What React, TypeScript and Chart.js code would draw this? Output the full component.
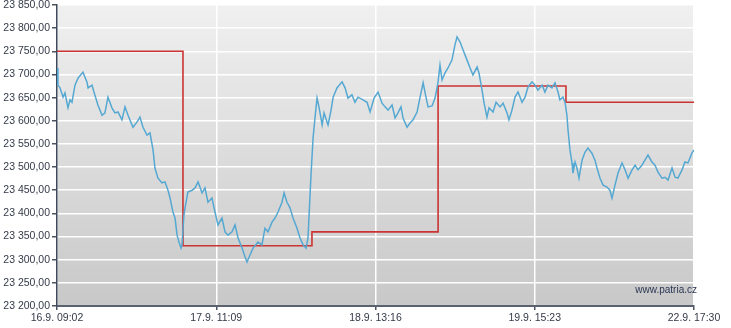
import React, { useEffect, useRef } from 'react';
import { Chart, registerables } from 'chart.js';

Chart.register(...registerables);

// x axis: session progress 0..400 (one hundred per labelled tick)
const xTickLabels = ['16.9. 09:02', '17.9. 11:09', '18.9. 13:16', '19.9. 15:23', '22.9. 17:30'];

const priceTime = [
  0, 0.6, 1.9, 3.8, 5.0, 6.9, 8.2, 9.4, 11.3, 13.2, 16.3, 18.8, 19.5, 22.0, 23.2, 25.7, 28.3, 30.1, 32.0, 34.5,
  36.4, 38.3, 40.8, 42.7, 44.6, 47.7, 50.2, 52.1, 54.0, 56.5, 58.4, 60.3, 61.5, 63.4, 65.9, 67.8, 69.7, 71.0, 72.8, 74.1,
  75.4, 76.6, 77.9, 78.5, 79.7, 80.4, 82.2, 84.8, 86.7, 88.6, 91.1, 92.9, 94.8, 97.3, 99.2, 101.1, 103.6, 105.5, 107.4, 109.9,
  111.8, 113.7, 116.2, 118.1, 119.3, 121.2, 123.1, 126.2, 128.7, 130.6, 132.5, 135.0, 136.9, 138.8, 141.3, 142.6, 144.4, 146.3, 148.2, 150.7,
  152.6, 154.5, 156.4, 157.6, 159.5, 160.8, 162.0, 163.3, 164.5, 166.5, 167.7, 169.6, 170.2, 172.1, 173.4, 175.8, 179.0, 180.9, 182.7, 185.2,
  187.1, 189.0, 192.2, 194.7, 196.6, 199.1, 201.6, 204.1, 206.0, 207.9, 210.4, 212.3, 214.1, 216.0, 217.3, 219.8, 221.7, 223.6, 226.1, 228.0,
  229.9, 231.7, 233.0, 235.5, 237.4, 239.3, 240.5, 241.8, 243.6, 245.5, 248.0, 249.9, 251.2, 253.1, 255.0, 257.5, 259.4, 261.2, 263.8, 265.0,
  266.9, 268.2, 270.0, 271.3, 273.8, 275.7, 278.2, 280.1, 282.6, 283.8, 285.7, 287.6, 289.5, 292.0, 293.9, 295.8, 298.3, 300.2, 302.0, 304.6,
  306.4, 308.3, 310.8, 312.7, 314.6, 315.8, 317.7, 319.0, 320.2, 320.9, 322.1, 323.4, 324.0, 325.3, 326.5, 327.8, 329.7, 331.5, 333.4, 335.9,
  337.8, 339.1, 341.0, 342.9, 345.4, 347.2, 348.5, 350.4, 352.3, 354.8, 356.7, 358.6, 361.1, 363.0, 364.8, 367.3, 369.2, 371.1, 373.6, 375.5,
  377.4, 379.9, 381.8, 383.7, 386.2, 388.1, 389.9, 392.5, 394.3, 396.2, 398.7, 400,
];

const priceValues = [
  23714, 23677, 23671, 23651, 23660, 23628, 23645, 23640, 23677, 23692, 23705, 23684, 23671, 23677, 23662, 23634, 23612, 23617, 23651, 23628,
  23617, 23619, 23602, 23630, 23612, 23586, 23597, 23608, 23586, 23569, 23574, 23537, 23498, 23476, 23466, 23468, 23450, 23433, 23403, 23390,
  23353, 23338, 23325, 23332, 23396, 23412, 23446, 23450, 23455, 23468, 23444, 23455, 23424, 23433, 23403, 23375, 23390, 23360, 23353, 23360,
  23375, 23347, 23325, 23306, 23295, 23310, 23325, 23338, 23332, 23368, 23360, 23381, 23390, 23403, 23424, 23444, 23424, 23412, 23390, 23368,
  23347, 23332, 23325, 23347, 23483, 23563, 23606, 23649, 23630, 23591, 23617, 23597, 23591, 23623, 23651, 23671, 23684, 23671, 23649, 23656,
  23640, 23651, 23645, 23640, 23619, 23649, 23662, 23638, 23630, 23623, 23634, 23606, 23617, 23630, 23606, 23586, 23595, 23602, 23619, 23651,
  23682, 23651, 23630, 23632, 23649, 23684, 23720, 23688, 23703, 23714, 23731, 23764, 23781, 23770, 23753, 23731, 23714, 23699, 23716, 23703,
  23666, 23638, 23608, 23628, 23619, 23640, 23630, 23638, 23617, 23602, 23623, 23651, 23662, 23640, 23651, 23673, 23684, 23677, 23666, 23677,
  23662, 23677, 23671, 23682, 23662, 23645, 23651, 23640, 23612, 23580, 23537, 23509, 23487, 23511, 23498, 23476, 23515, 23532, 23541, 23530,
  23515, 23498, 23476, 23461, 23457, 23450, 23433, 23461, 23487, 23509, 23494, 23476, 23494, 23504, 23494, 23504, 23515, 23526, 23511, 23504,
  23489, 23476, 23478, 23472, 23498, 23478, 23476, 23494, 23511, 23509, 23530, 23537,
];

// reference (previous close) step line
const refTime = [0, 79.1, 160.1, 239.3, 319.6, 400];
const refValues = [23750, 23330, 23360, 23675, 23640, 23640];

const yMin = 23200;
const yMax = 23850;
const yStep = 50;
const watermark = 'www.patria.cz';

function formatCz(v: number): string {
  const fixed = v.toFixed(2);
  const [intPart, dec] = fixed.split('.');
  const withSpaces = intPart.replace(/\B(?=(\d{3})+(?!\d))/g, ' ');
  return withSpaces + ',' + dec;
}

const bgPlugin = {
  id: 'bgGradient',
  beforeDraw(chart: any) {
    const { ctx, chartArea } = chart;
    if (!chartArea) return;
    const { left, top, right, bottom } = chartArea;
    const g = ctx.createLinearGradient(0, top, 0, bottom);
    g.addColorStop(0, '#f0f0f0');
    g.addColorStop(1, '#c8c8c8');
    ctx.save();
    ctx.fillStyle = g;
    ctx.fillRect(left, top, right - left, bottom - top);
    ctx.restore();
  },
  afterDatasetsDraw(chart: any) {
    const { ctx, chartArea } = chart;
    ctx.save();
    ctx.font = '10px "Liberation Sans", Arial, sans-serif';
    ctx.fillStyle = '#2b3654';
    ctx.textAlign = 'right';
    ctx.textBaseline = 'alphabetic';
    ctx.fillText(watermark, chartArea.right + 3, chartArea.bottom - 13);
    ctx.restore();
  },
};

export default function App() {
  const ref = useRef<HTMLCanvasElement | null>(null);

  useEffect(() => {
    if (!ref.current) return;
    const font = { family: '"Liberation Sans", Arial, sans-serif', size: 10.5 };
    const chart = new Chart(ref.current, {
      type: 'line',
      data: {
        datasets: [
          {
            label: 'Kurz',
            data: priceTime.map((t, i) => ({ x: t, y: priceValues[i] })),
            borderColor: '#55a8d2',
            borderWidth: 1.5,
            pointRadius: 0,
            tension: 0,
          },
          {
            label: 'Předchozí',
            data: refTime.map((t, i) => ({ x: t, y: refValues[i] })),
            borderColor: '#cc3333',
            borderWidth: 1.6,
            pointRadius: 0,
            stepped: 'before',
          },
        ],
      },
      options: {
        responsive: false,
        animation: false,
        devicePixelRatio: 1,
        layout: { padding: { top: 5, right: 37, left: 0, bottom: 0 } },
        plugins: { legend: { display: false }, tooltip: { enabled: false } },
        scales: {
          x: {
            type: 'linear',
            min: 0,
            max: 400,
            afterFit: (s: any) => { s.height = 22; s.paddingLeft = 0; s.paddingRight = 0; },
            ticks: {
              stepSize: 100,
              autoSkip: false,
              maxRotation: 0,
              padding: 2,
              color: '#333a48',
              font,
              callback: (v: any) => xTickLabels[Math.round(Number(v) / 100)] ?? '',
            },
            grid: { color: '#ffffff', lineWidth: 1.5, tickColor: '#4a5360', tickLength: 4 },
            border: { display: true, color: '#5a6270', width: 2 },
          },
          y: {
            min: yMin,
            max: yMax,
            afterFit: (s: any) => { s.width = 57; s.paddingTop = 0; s.paddingBottom = 0; },
            ticks: {
              stepSize: yStep,
              padding: 2,
              color: '#333a48',
              font,
              callback: (v: any) => formatCz(Number(v)),
            },
            grid: { color: '#ffffff', lineWidth: 1.5, tickColor: '#4a5360', tickLength: 5 },
            border: { display: true, color: '#3e4a5c', width: 1.5 },
          },
        },
      },
      plugins: [bgPlugin],
    });
    return () => chart.destroy();
  }, []);

  return (
    <div style={{ position: 'absolute', left: 0, top: 0, width: 731, height: 328, background: '#ffffff' }}>
      <canvas ref={ref} width={731} height={328} style={{ display: 'block' }} />
    </div>
  );
}
